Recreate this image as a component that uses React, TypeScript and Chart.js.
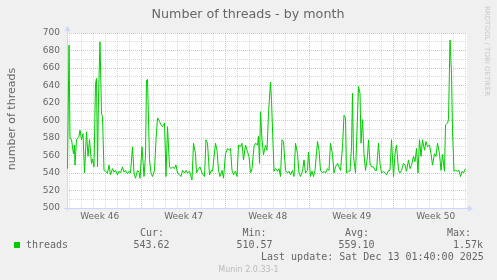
import React, { useEffect, useRef } from 'react';
import { Chart, registerables } from 'chart.js';
Chart.register(...registerables);

const TITLE = 'Number of threads - by month';
const Y_TITLE = 'number of threads';
const WATERMARK = 'RRDTOOL / TOBI OETIKER';
const weekLabels = ['Week 46', 'Week 47', 'Week 48', 'Week 49', 'Week 50'];
const RANGE_HOURS = 800; // width of the graph window in hours
const WEEK47_START = 149.4; // hour offset at which week 47 begins
const Y_MIN = 500;
const Y_MAX = 700;
const Y_STEP = 10;
const Y_LABEL_STEP = 20;

// sample time (hours from window start) and thread count
const hours = [
  1, 4, 6, 9, 13, 15, 16, 19, 24, 26, 29, 32, 35, 39, 42, 45, 49, 51, 54, 57, 59, 61, 63, 66, 69, 71, 74, 77,
  81, 84, 87, 91, 94, 97, 101, 104, 107, 111, 114, 117, 121, 124, 127, 131, 134, 137, 141, 144, 146, 150, 154,
  157, 159, 161, 165, 168, 171, 175, 178, 181, 185, 188, 191, 195, 198, 201, 205, 208, 211, 215, 218, 221, 225,
  228, 231, 235, 238, 241, 245, 250, 253, 257, 259, 263, 266, 270, 275, 278, 281, 285, 289, 291, 297, 300, 303,
  306, 310, 313, 317, 321, 325, 327, 330, 333, 337, 340, 343, 347, 350, 353, 357, 361, 364, 367, 370, 374, 377,
  381, 383, 385, 387, 390, 393, 397, 400, 403, 407, 409, 412, 414, 417, 421, 424, 427, 430, 433, 437, 441, 444,
  447, 451, 454, 457, 461, 464, 467, 471, 474, 477, 481, 483, 487, 490, 493, 496, 501, 504, 507, 511, 514, 517,
  521, 524, 527, 531, 534, 537, 541, 544, 547, 551, 554, 557, 559, 563, 566, 569, 571, 573, 577, 580, 583, 586,
  588, 591, 594, 597, 601, 603, 606, 609, 613, 616, 619, 623, 626, 629, 633, 636, 639, 643, 646, 649, 653, 656,
  659, 663, 666, 669, 673, 676, 679, 683, 686, 689, 693, 696, 699, 702, 705, 708, 711, 715, 718, 721, 725, 728,
  731, 735, 738, 741, 745, 748, 751, 755, 757, 761, 763, 766, 769, 771, 774, 777, 781, 784, 787, 790, 793, 797,
];
const threads = [
  545, 686, 580, 578, 562, 572, 549, 578, 582, 589, 578, 585, 540, 587, 559, 578, 551, 556, 547, 642, 648, 547, 627, 690, 608, 604, 543, 542,
  540, 549, 538, 545, 541, 543, 538, 542, 540, 547, 541, 543, 539, 542, 540, 570, 540, 534, 543, 541, 534, 570, 536,
  560, 646, 647, 555, 540, 536, 543, 578, 603, 599, 595, 593, 597, 536, 593, 547, 545, 547, 545, 549, 540, 538,
  536, 543, 540, 543, 540, 542, 532, 574, 562, 540, 545, 547, 540, 536, 578, 574, 538, 543, 542, 574, 566, 543,
  536, 543, 534, 562, 568, 566, 568, 543, 538, 542, 536, 572, 570, 574, 555, 572, 564, 559, 540, 545, 570, 574,
  572, 582, 551, 610, 578, 561, 572, 566, 608, 644, 623, 574, 542, 545, 542, 545, 536, 578, 576, 543, 540, 542,
  538, 543, 536, 574, 562, 540, 536, 542, 555, 540, 543, 564, 536, 542, 536, 543, 576, 566, 543, 540, 542, 540,
  545, 543, 574, 561, 540, 547, 551, 547, 543, 570, 606, 603, 540, 542, 542, 570, 631, 559, 540, 589, 639, 631,
  574, 601, 562, 543, 559, 578, 551, 547, 547, 543, 543, 574, 551, 540, 542, 540, 538, 543, 543, 578, 536, 562,
  572, 543, 540, 543, 551, 549, 542, 555, 545, 549, 559, 553, 568, 540, 578, 559, 578, 566, 576, 570, 572, 562,
  549, 562, 559, 574, 562, 543, 561, 542, 595, 597, 601, 692, 654, 589, 542, 543, 542, 543, 536, 542, 540, 545,
];

const SERIES_NAME = 'threads';
const legendHeaders = ['Cur:', 'Min:', 'Avg:', 'Max:'];
const legendValues = ['543.62', '510.57', '559.10', '1.57k'];
const LAST_UPDATE = 'Last update: Sat Dec 13 01:40:00 2025';
const FOOTER = 'Munin 2.0.33-1';

const LINE_COLOR = '#00cc00';
const FONT_COLOR = '#666666';
const AXIS_COLOR = '#cfd6f8';
const GRID_COLOR = 'rgba(143,143,143,0.32)';
const MGRID_COLOR = 'rgba(222,80,80,0.4)';

const weekCenters = weekLabels.map((_, i) => WEEK47_START + 168 * (i - 1) + 84);
const weekBounds: number[] = [];
for (let h = WEEK47_START; h < RANGE_HOURS; h += 168) weekBounds.push(h);
const dayLines: number[] = [];
for (let h = WEEK47_START % 24; h < RANGE_HOURS; h += 24) dayLines.push(h);

const near = (arr: number[], v: number) => arr.findIndex((a) => Math.abs(a - v) < 0.01);

const decorPlugin = {
  id: 'muninDecor',
  beforeDraw(chart: any) {
    const { ctx, chartArea: a, width, height } = chart;
    ctx.save();
    ctx.fillStyle = '#f0f0f0';
    ctx.fillRect(0, 0, width, height);
    ctx.fillStyle = '#ffffff';
    ctx.fillRect(a.left, a.top, a.right - a.left, a.bottom - a.top);
    ctx.restore();
  },
  beforeDatasetsDraw(chart: any) {
    const { ctx, chartArea: a } = chart;
    ctx.save();
    ctx.strokeStyle = AXIS_COLOR;
    ctx.fillStyle = AXIS_COLOR;
    ctx.lineWidth = 1;
    ctx.beginPath();
    ctx.moveTo(a.left - 3, a.bottom + 0.5);
    ctx.lineTo(a.right + 2, a.bottom + 0.5);
    ctx.moveTo(a.left + 0.5, a.bottom + 3);
    ctx.lineTo(a.left + 0.5, a.top - 2);
    ctx.stroke();
    // arrows
    ctx.beginPath();
    ctx.moveTo(a.right + 6, a.bottom + 0.5);
    ctx.lineTo(a.right + 1, a.bottom - 2.5);
    ctx.lineTo(a.right + 1, a.bottom + 3.5);
    ctx.closePath();
    ctx.fill();
    ctx.beginPath();
    ctx.moveTo(a.left + 0.5, a.top - 7);
    ctx.lineTo(a.left - 2.5, a.top - 2);
    ctx.lineTo(a.left + 3.5, a.top - 2);
    ctx.closePath();
    ctx.fill();
    ctx.restore();
  },
  afterDraw(chart: any) {
    const { ctx } = chart;
    ctx.save();
    ctx.fillStyle = FONT_COLOR;
    ctx.textBaseline = 'alphabetic';
    ctx.textAlign = 'center';
    ctx.font = '12.7px "DejaVu Sans"';
    ctx.fillText(TITLE, 248, 18);

    ctx.save();
    ctx.translate(15, 119);
    ctx.rotate(-Math.PI / 2);
    ctx.font = '11px "DejaVu Sans"';
    ctx.fillText(Y_TITLE, 0, 0);
    ctx.restore();

    ctx.save();
    ctx.translate(485, 6);
    ctx.rotate(Math.PI / 2);
    ctx.textAlign = 'left';
    ctx.fillStyle = '#c8c8c8';
    ctx.font = '7px "DejaVu Sans"';
    ctx.fillText(WATERMARK, 0, 0);
    ctx.restore();

    // legend
    ctx.fillStyle = LINE_COLOR;
    ctx.fillRect(14, 242, 6, 6);
    ctx.fillStyle = FONT_COLOR;
    ctx.textAlign = 'left';
    ctx.textBaseline = 'middle';
    ctx.font = '10px "DejaVu Sans Mono"';
    ctx.fillText(SERIES_NAME, 26, 245.5);
    const headX = [140, 242.5, 345, 447];
    const valX = [133.5, 236.5, 338.5, 453];
    legendHeaders.forEach((t, i) => ctx.fillText(t, headX[i], 233.5));
    legendValues.forEach((t, i) => ctx.fillText(t, valX[i], 245.5));
    ctx.fillText(LAST_UPDATE, 261, 257.5);

    ctx.textAlign = 'center';
    ctx.fillStyle = '#bbbbbb';
    ctx.font = '8px "DejaVu Sans"';
    ctx.fillText(FOOTER, 248.5, 269.5);
    ctx.restore();
  },
};

export default function App() {
  const ref = useRef<HTMLCanvasElement | null>(null);
  useEffect(() => {
    document.body.style.margin = '0';
    document.body.style.background = '#f0f0f0';
    if (!ref.current) return;
    const tickFont = { family: 'DejaVu Sans', size: 9 };
    const chart = new Chart(ref.current, {
      type: 'line',
      data: {
        datasets: [
          {
            label: SERIES_NAME,
            data: hours.map((h, i) => ({ x: h, y: threads[i] })),
            borderColor: LINE_COLOR,
            borderWidth: 1,
            pointRadius: 0,
            fill: false,
            tension: 0,
          },
        ],
      },
      options: {
        responsive: false,
        animation: false,
        devicePixelRatio: 1,
        layout: { padding: { top: 33, left: 0, right: 30, bottom: 52 } },
        plugins: { legend: { display: false }, tooltip: { enabled: false } },
        events: [],
        scales: {
          x: {
            type: 'linear',
            min: 0,
            max: RANGE_HOURS,
            afterBuildTicks: (s: any) => {
              s.ticks = [...dayLines, ...weekCenters].sort((p, q) => p - q).map((v) => ({ value: v }));
            },
            afterFit: (s: any) => {
              s.height = 20;
            },
            ticks: {
              autoSkip: false,
              maxRotation: 0,
              padding: 3,
              font: tickFont,
              color: FONT_COLOR,
              callback: (v: any) => {
                const i = near(weekCenters, Number(v));
                return i >= 0 ? weekLabels[i] : '';
              },
            },
            grid: {
              drawTicks: false,
              lineWidth: 1,
              color: (c: any) => {
                const v = c.tick ? c.tick.value : NaN;
                if (near(weekCenters, v) >= 0) return 'rgba(0,0,0,0)';
                if (near(weekBounds, v) >= 0) return MGRID_COLOR;
                return GRID_COLOR;
              },
            },
            border: { display: false, dash: [1, 1] },
          },
          y: {
            type: 'linear',
            min: Y_MIN,
            max: Y_MAX,
            afterFit: (s: any) => {
              s.width = 67;
            },
            ticks: {
              stepSize: Y_STEP,
              autoSkip: false,
              padding: 7,
              font: tickFont,
              color: FONT_COLOR,
              callback: (v: any) => (Number(v) % Y_LABEL_STEP === 0 ? String(v) : ''),
            },
            grid: {
              drawTicks: false,
              lineWidth: 1,
              color: (c: any) => (c.tick && c.tick.value % Y_LABEL_STEP === 0 ? MGRID_COLOR : GRID_COLOR),
            },
            border: { display: false, dash: [1, 1] },
          },
        },
      },
      plugins: [decorPlugin],
    } as any);
    return () => chart.destroy();
  }, []);
  return <canvas ref={ref} width={497} height={280} style={{ display: 'block', width: 497, height: 280 }} />;
}
